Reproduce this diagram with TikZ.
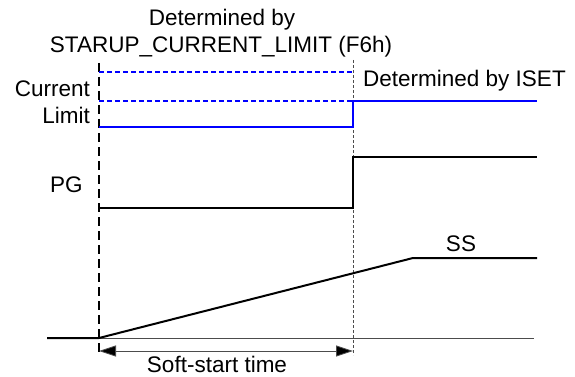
\documentclass[tikz,border=0pt]{standalone}
\usepackage{fontspec}
\setmainfont{Liberation Sans}
\usetikzlibrary{arrows.meta}
\begin{document}
\begin{tikzpicture}[x=1pt,y=-1pt,
  lbl/.style={inner sep=0pt,font=\fontsize{22.5}{27}\selectfont},
  bluedash/.style={draw=blue,line width=2pt,dash pattern=on 5pt off 3pt},
  bluesolid/.style={draw=blue,line width=2pt},
  sig/.style={draw=black,line width=2pt},
  startline/.style={draw=black,line width=1.2pt,dash pattern=on 9pt off 5pt},
  endline/.style={draw=black!70,line width=0.7pt,dash pattern=on 3pt off 2pt},
  axisline/.style={draw=black!70,line width=0.8pt},
  dimarrow/.style={draw=black!70,line width=0.8pt,{Triangle[length=17pt,width=11pt,fill=black]}-{Triangle[length=17pt,width=11pt,fill=black]}}]
\useasboundingbox (0,0) rectangle (575,377);
% coordinates
\coordinate (s0) at (99,63);
\coordinate (s1) at (99,355);
\coordinate (e0) at (353,60);
\coordinate (e1) at (353,355);
% current limit
\coordinate (d1a) at (99,72);  \coordinate (d1b) at (353,72);
\coordinate (d2a) at (99,101); \coordinate (d2b) at (353,101);
\coordinate (c0) at (99,127); \coordinate (c1) at (353,127);
\coordinate (c2) at (353,101); \coordinate (c3) at (537,101);
% PG
\coordinate (p0) at (99,208); \coordinate (p1) at (353,208);
\coordinate (p2) at (353,157); \coordinate (p3) at (537,157);
% SS
\coordinate (ss0) at (47,338); \coordinate (ss1) at (99,338);
\coordinate (ss2) at (413,258); \coordinate (ss3) at (537,258);
\coordinate (ax1) at (534,338);
% arrow
\coordinate (a0) at (99,351); \coordinate (a1) at (353,351);

\draw[startline] (s0) -- (s1);
\draw[endline] (e0) -- (e1);
\draw[bluedash] (d1a) -- (d1b);
\draw[bluedash] (d2a) -- (d2b);
\draw[bluesolid] (c0) -- (c1) -- (c2) -- (c3);
\draw[sig] (p0) -- (p1) -- (p2) -- (p3);
\draw[axisline] (ss1) -- (ax1);
\draw[sig] (ss0) -- (ss1) -- (ss2) -- (ss3);
\draw[dimarrow] (a0) -- (a1);

% labels
\node[lbl,anchor=base] (t1) at (222,26) {Determined by};
\node[lbl,anchor=base] (t2) at (221,53) {STARUP\_CURRENT\_LIMIT (F6h)};
\node[lbl,anchor=base east] (cur) at (90,96.5) {Current};
\node[lbl,anchor=base east] (lim) at (90,123.5) {Limit};
\node[lbl,anchor=base west] (iset) at (363,87) {Determined by ISET};
\node[lbl,anchor=base west] (pg) at (50,192) {PG};
\node[lbl,anchor=base] (ss) at (461,251) {SS};
\node[lbl,anchor=base] (sst) at (217,372.5) {Soft-start time};
\end{tikzpicture}
\end{document}
